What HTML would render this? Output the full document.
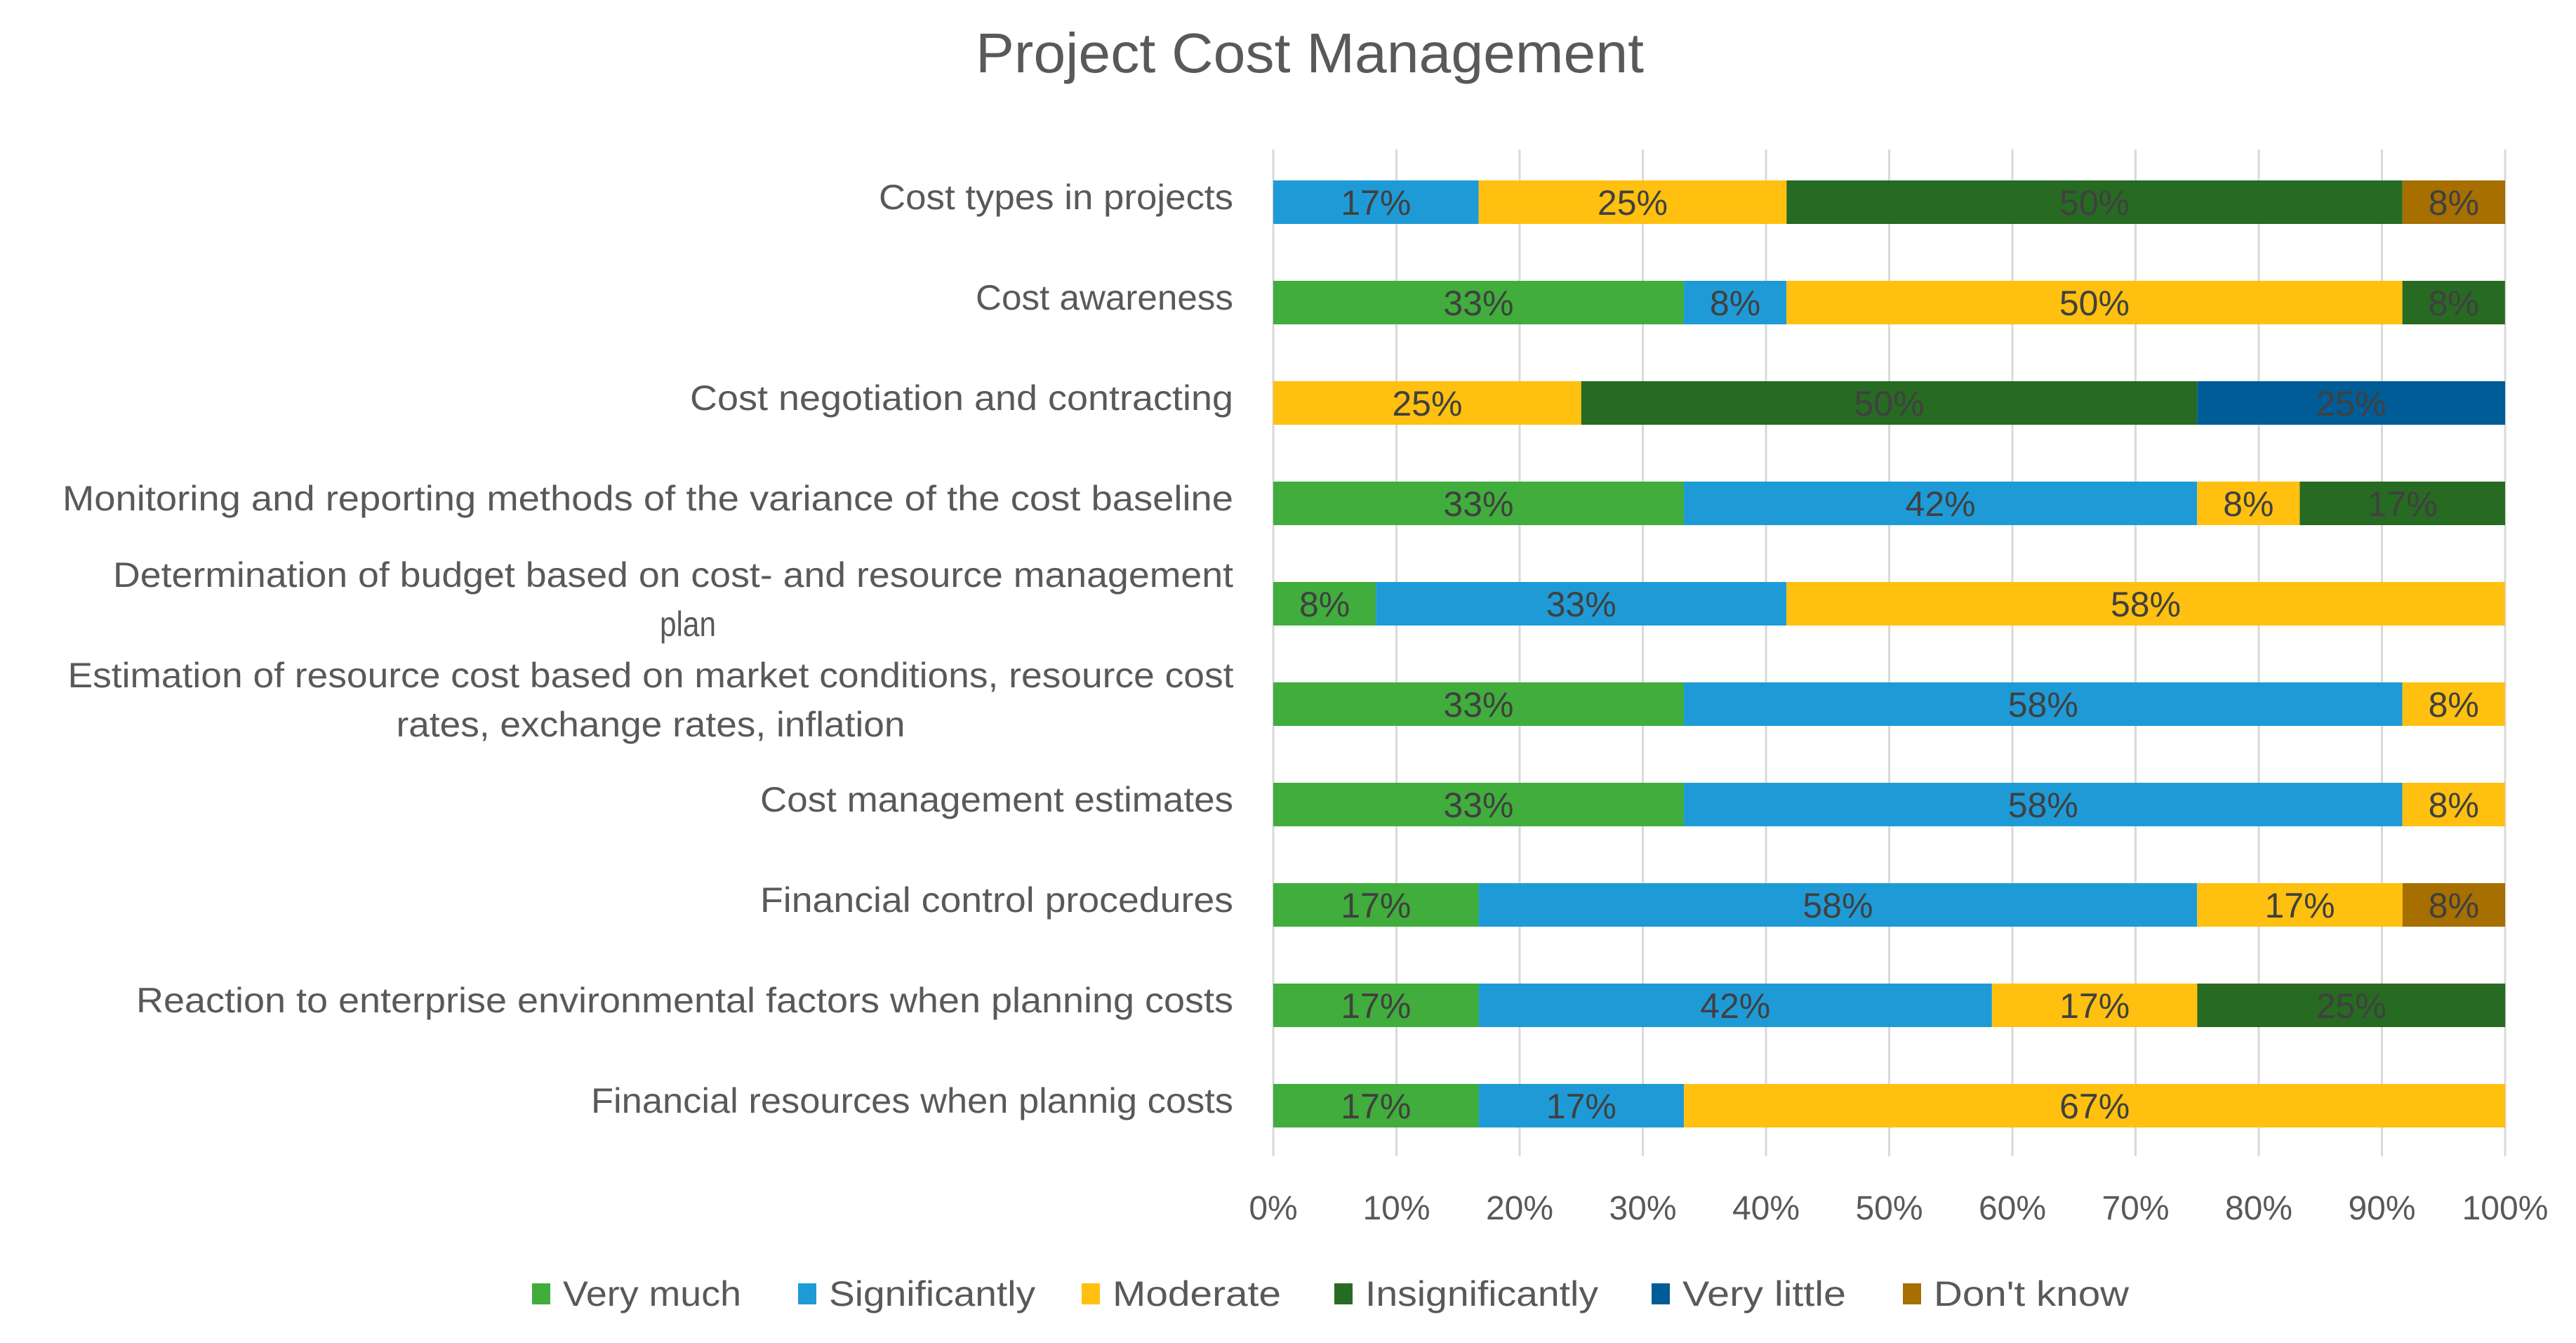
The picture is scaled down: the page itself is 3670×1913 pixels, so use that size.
<!DOCTYPE html>
<html><head><meta charset="utf-8"><style>
html,body{margin:0;padding:0;background:#fff;}
svg{display:block;font-family:"Liberation Sans",sans-serif;}
</style></head><body>
<svg id="chart" width="3670" height="1913" viewBox="0 0 3670 1913" xmlns="http://www.w3.org/2000/svg">
<rect width="3670" height="1913" fill="#fff"/>
<text x="1866" y="103" text-anchor="middle" font-size="80" fill="#595959" textLength="952" lengthAdjust="spacingAndGlyphs">Project Cost Management</text>
<g id="grid"></g><g id="bars"></g><g id="labels"></g><g id="ticks"></g><g id="legend"></g>
</svg>
<script>
const categories = [
 ["Cost types in projects"],
 ["Cost awareness"],
 ["Cost negotiation and contracting"],
 ["Monitoring and reporting methods of the variance of the cost baseline"],
 ["Determination of budget based on cost- and resource management","plan"],
 ["Estimation of resource cost based on market conditions, resource cost","rates, exchange rates, inflation"],
 ["Cost management estimates"],
 ["Financial control procedures"],
 ["Reaction to enterprise environmental factors when planning costs"],
 ["Financial resources when plannig costs"]
];
const seriesNames = ["Very much","Significantly","Moderate","Insignificantly","Very little","Don't know"];
const veryMuch      = [0, 33.33, 0, 33.33, 8.33, 33.33, 33.33, 16.67, 16.67, 16.67];
const significantly = [16.67, 8.33, 0, 41.67, 33.33, 58.33, 58.33, 58.33, 41.67, 16.67];
const moderate      = [25, 50, 25, 8.33, 58.33, 8.33, 8.33, 16.67, 16.67, 66.67];
const insignificantly=[50, 8.33, 50, 16.67, 0, 0, 0, 0, 25, 0];
const veryLittle    = [0, 0, 25, 0, 0, 0, 0, 0, 0, 0];
const dontKnow      = [8.33, 0, 0, 0, 0, 0, 0, 8.33, 0, 0];
const tickValues = [0,10,20,30,40,50,60,70,80,90,100];
const tickLabels = ["0%","10%","20%","30%","40%","50%","60%","70%","80%","90%","100%"];

const series = [veryMuch, significantly, moderate, insignificantly, veryLittle, dontKnow];
const colors = ["#40ad3c","#1e9bd7","#ffc00f","#276a22","#005c97","#a66f00"];
const labelWidths = [[505],[367],[774],[1668],[1596,80],[1661,725],[674],[674],[1563],[915]];
const labelCenters = [0,0,0,0,[959,980],[927,927],0,0,0,0];
const NS = "http://www.w3.org/2000/svg";
const X0 = 1814, X1 = 3569, Y0 = 288, ROW = 143, BH = 62;
const xs = v => X0 + (X1 - X0) * v / 100;
const ys = i => Y0 + ROW * i;
function mk(tag, attrs, parent){const e=document.createElementNS(NS,tag);for(const k in attrs)e.setAttribute(k,attrs[k]);parent.appendChild(e);return e;}
const grid=document.getElementById('grid'), bars=document.getElementById('bars'), labels=document.getElementById('labels'), ticks=document.getElementById('ticks'), legend=document.getElementById('legend');
tickValues.forEach((t,i)=>{
  const l=mk('line',{x1:xs(t),x2:xs(t),y1:213,y2:1647,stroke:'#d9d9d9','stroke-width':3},grid);
  
  
  const tx=mk('text',{x:xs(t),y:1737,'text-anchor':'middle','font-size':48,fill:'#595959'},ticks);
  tx.textContent=tickLabels[i];
  
  
});
categories.forEach((cat,i)=>{
  const cy=ys(i);
  if(cat.length===1){
    const t=mk('text',{x:1757,y:cy+10,'text-anchor':'end','font-size':50,fill:'#595959',textLength:labelWidths[i][0],lengthAdjust:'spacingAndGlyphs'},labels);
    t.textContent=cat[0];
    
    
  } else {
    cat.forEach((line,j)=>{
      const t=mk('text',{x:labelCenters[i][j],y:cy-24+j*70,'text-anchor':'middle','font-size':50,fill:'#595959',textLength:labelWidths[i][j],lengthAdjust:'spacingAndGlyphs'},labels);
      t.textContent=line;
      
      
    });
  }
  let acc=0;
  series.forEach((s,k)=>{
    const v=s[i]; if(!v) return;
    const r=mk('rect',{x:xs(acc),y:cy-BH/2,width:xs(acc+v)-xs(acc),height:BH,fill:colors[k]},bars);
    
    
    const t=mk('text',{x:xs(acc+v/2),y:cy+18,'text-anchor':'middle','font-size':50,fill:'#404040'},bars);
    t.textContent=Math.round(v)+'%';
    
    
    acc+=v;
  });
});
const legX=[758,1137,1541,1901,2353,2711], legW=[254,294,240,332,233,278];
seriesNames.forEach((n,k)=>{
  const m=mk('rect',{x:legX[k],y:1828,width:26,height:30,fill:colors[k]},legend);
  
  
  const t=mk('text',{x:legX[k]+44,y:1860,'font-size':50,fill:'#595959',textLength:legW[k],lengthAdjust:'spacingAndGlyphs'},legend);
  t.textContent=n;
  
  
});
</script>
</body></html>
